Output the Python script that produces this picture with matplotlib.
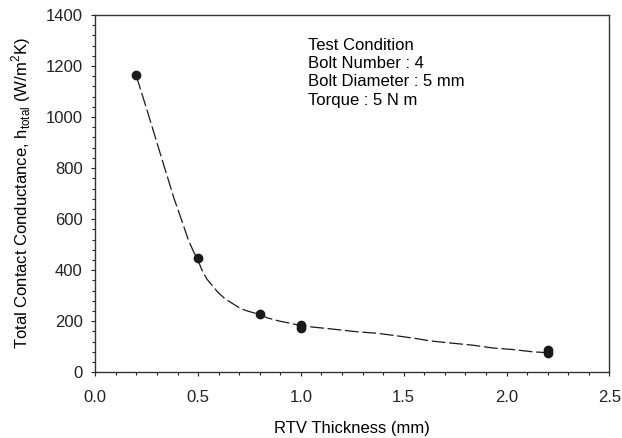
import numpy as np
import matplotlib
matplotlib.use("Agg")
import matplotlib.pyplot as plt
from matplotlib.ticker import MultipleLocator

plt.rcParams['font.family'] = ['Liberation Sans', 'DejaVu Sans']
plt.rcParams['mathtext.fontset'] = 'custom'
plt.rcParams['mathtext.rm'] = 'Liberation Sans'

# measured points
thickness = [0.2, 0.5, 0.8, 1.0, 1.0, 2.2, 2.2]
h_total = [1163, 446, 230, 187, 173, 88, 75]

# dashed fit curve
fit_x = [0.2, 0.242, 0.269, 0.299, 0.328, 0.356, 0.383, 0.420, 0.452, 0.477,
         0.500, 0.517, 0.542, 0.598, 0.631, 0.704, 0.736, 0.793, 0.834, 0.898,
         0.931, 1.0, 1.06, 1.158, 1.271, 1.369, 1.466, 1.555, 1.628, 1.725,
         1.838, 1.936, 2.033, 2.13, 2.2]
fit_y = [1160, 1052, 981, 902, 825, 752, 681, 596, 520, 474,
         438, 404, 366, 312, 288, 251, 241, 228, 214, 200,
         195, 183, 177, 169, 159, 153, 143, 133, 123, 115,
         106, 95, 89, 80, 77]

fig = plt.figure(figsize=(6.22, 4.38), dpi=100)
ax = fig.add_axes([0.1532, 0.15, 0.8264, 0.8158])

ax.plot(fit_x, fit_y, color='#1a1a1a', lw=0.9, dashes=(11, 3))
ax.plot(thickness, h_total, 'o', color='#1a1a1a', ms=6, ls='none')

ax.set_xlim(0, 2.5)
ax.set_ylim(0, 1400)
ax.xaxis.set_major_locator(MultipleLocator(0.5))
ax.xaxis.set_minor_locator(MultipleLocator(0.1))
ax.yaxis.set_major_locator(MultipleLocator(200))
ax.yaxis.set_minor_locator(MultipleLocator(40))
ax.xaxis.set_major_formatter(plt.FormatStrFormatter('%.1f'))
ax.tick_params(which='major', direction='out', length=3, width=0.8,
               labelsize=12, colors='#222222')
ax.tick_params(axis='x', which='major', pad=9.5)
ax.tick_params(axis='y', which='major', pad=6)
ax.tick_params(which='minor', direction='out', length=2, width=0.8, colors='#222222')
for s in ax.spines.values():
    s.set_color('#333333')
    s.set_linewidth(1.0)

ax.set_xlabel('RTV Thickness (mm)', fontsize=12, labelpad=12)
ax.set_ylabel(r'Total Contact Conductance, h$_{\mathregular{total}}$ (W/m$^{\mathregular{2}}$K)',
              fontsize=12, labelpad=9)

ax.text(1.035, 1310, 'Test Condition\nBolt Number : 4\nBolt Diameter : 5 mm\nTorque : 5 N m',
        fontsize=12, va='top', ha='left', linespacing=1.27)

fig.savefig('out.png', dpi=100)
